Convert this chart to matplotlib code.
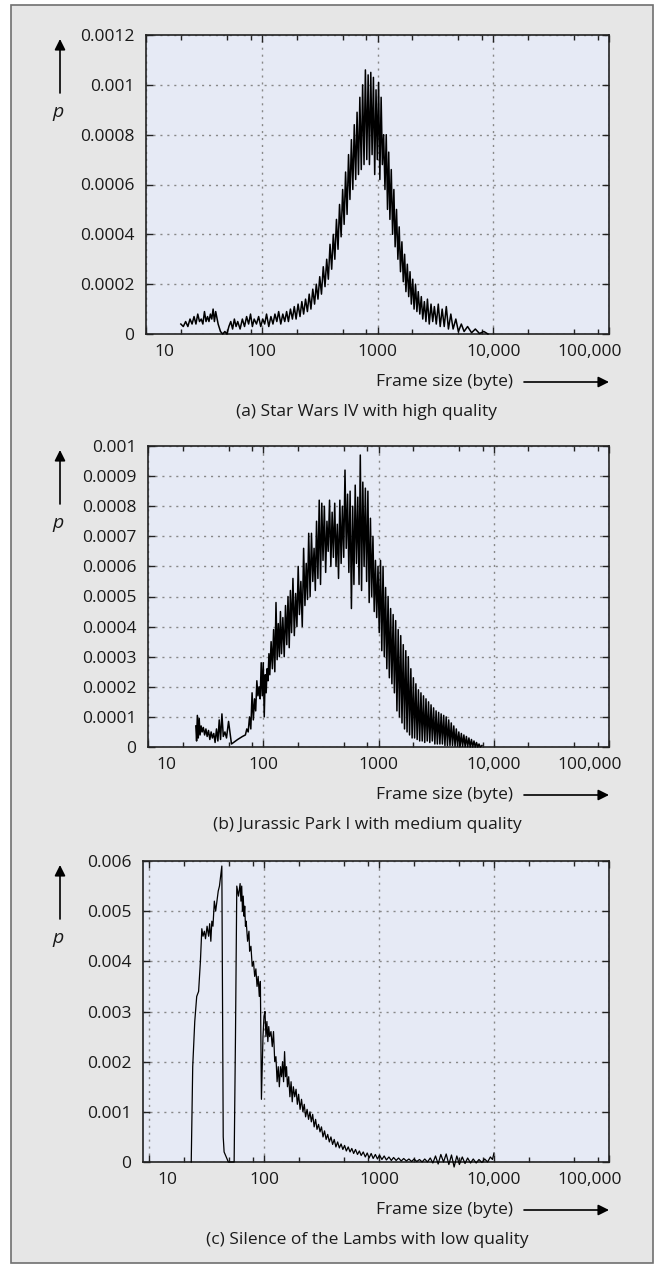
import numpy as np
import matplotlib.pyplot as plt
from matplotlib.patches import Rectangle, FancyArrowPatch
from matplotlib.ticker import FixedLocator, NullFormatter
from matplotlib.transforms import ScaledTranslation

plt.rcParams['font.family'] = ['Open Sans', 'DejaVu Sans']

# ---- frame size distributions (x in bytes) ----
# (a) Star Wars IV, high quality; p values in units of 1e-4
sw_x = [20, 21, 22, 23, 24, 25, 26, 27, 28, 29, 30, 31, 32, 33, 34, 35, 36, 37, 38, 39,
        40, 42, 44, 46, 48, 50, 52, 54, 56, 58, 60, 62, 65, 68, 71, 74, 77, 80, 83, 86,
        90, 94, 98, 102, 106, 110, 115, 120, 125, 130, 135, 140, 146, 152, 158, 164, 170,
        177, 184, 191, 198, 206, 214, 222, 230, 239, 248, 257, 266, 276, 286, 296, 306,
        317, 328, 340, 352, 364, 376, 389, 402, 415, 428, 442, 456, 470, 485, 500, 515,
        530, 546, 562, 578, 595, 612, 630, 648, 666, 685, 704, 724, 744, 765, 786, 808,
        830, 852, 875, 898, 922, 946, 971, 996, 1022, 1048, 1075, 1102, 1130, 1160, 1190,
        1220, 1250, 1280, 1315, 1350, 1385, 1420, 1460, 1500, 1540, 1580, 1625, 1670,
        1715, 1760, 1810, 1860, 1910, 1960, 2015, 2070, 2130, 2190, 2250, 2320, 2390,
        2460, 2540, 2620, 2700, 2800, 2900, 3000, 3100, 3220, 3350, 3480, 3620, 3770,
        3930, 4100, 4300, 4500, 4750, 5000, 5300, 5600, 6000, 6500, 7000, 7600, 8300, 9000]
sw_p = [0.4, 0.3, 0.5, 0.3, 0.6, 0.4, 0.7, 0.4, 0.8, 0.5, 0.6, 0.4, 0.9, 0.5, 0.7, 0.5, 0.8, 0.6, 1.0, 0.5,
        0.9, 0.4, 0.1, 0.0, 0.1, 0.0, 0.3, 0.5, 0.2, 0.6, 0.3, 0.5, 0.2, 0.6, 0.3, 0.7, 0.4, 0.8, 0.3, 0.6,
        0.4, 0.7, 0.3, 0.6, 0.4, 0.8, 0.3, 0.7, 0.4, 0.8, 0.5, 0.9, 0.4, 0.8, 0.5, 0.9, 0.5,
        1.0, 0.6, 1.1, 0.6, 1.2, 0.7, 1.3, 0.8, 1.4, 0.9, 1.6, 1.0, 1.8, 1.2, 2.0, 1.4,
        2.3, 1.6, 2.7, 1.9, 3.0, 2.2, 3.6, 2.6, 4.0, 3.0, 4.6, 3.4, 5.2, 3.9, 5.8, 4.4,
        6.5, 4.8, 7.2, 5.4, 7.8, 5.8, 8.4, 6.2, 8.9, 6.4, 9.5, 6.6, 10.0, 6.8, 10.6, 7.0,
        10.4, 6.8, 10.5, 7.2, 10.3, 6.4, 9.8, 7.0, 10.1, 6.2, 9.5, 6.8, 8.0, 5.8, 8.0,
        5.0, 7.3, 4.6, 6.6, 4.0, 5.8, 3.5, 5.0, 3.0, 4.3, 2.5, 3.7, 2.1,
        3.2, 1.7, 2.8, 1.5, 2.5, 1.2, 2.2, 1.0, 2.0, 0.9, 1.7, 0.8, 1.5,
        0.6, 1.3, 0.5, 1.4, 0.4, 1.2, 0.5, 1.1, 0.4, 1.2, 0.3, 1.0, 0.3,
        1.1, 0.2, 0.8, 0.2, 0.6, 0.1, 0.4, 0.1, 0.3, 0.05, 0.2, 0.02, 0.1, 0.0]

# (b) Jurassic Park I, medium quality; p values in units of 1e-4
jp_x = [26, 26.4, 26.8, 27.3, 27.8, 28.3, 28.9, 29.5, 30.2, 31, 31.8, 32.6, 33.5, 34.4, 35.3,
        36.2, 37.2, 38.2, 39.3, 40.4, 41.5, 42.6, 43.8, 45, 46.5, 48, 50, 53, 60, 66, 70, 72,
        74, 76, 78, 80, 82, 84, 86, 88, 90, 92, 94, 96, 98, 100, 102, 104, 106, 108, 110,
        112, 114, 117, 120, 123, 126, 129, 132, 135, 138, 141, 144, 148, 152, 156, 160,
        164, 168, 172, 176, 181, 186, 191, 196, 201, 206, 212, 218, 224, 230, 236, 242,
        248, 255, 262, 269, 276, 283, 290, 298, 306, 314, 322, 330, 339, 348, 357, 366,
        376, 386, 396, 406, 417, 428, 439, 450, 462, 474, 486, 499, 512, 525, 539, 553,
        567, 582, 597, 612, 628, 644, 661, 678, 695, 713, 731, 750, 769, 789, 809, 830,
        851, 873, 895, 918, 941, 965, 990, 1015, 1041, 1068, 1095, 1123, 1152, 1181, 1211,
        1242, 1274, 1307, 1340, 1374, 1409, 1445, 1482, 1520, 1559, 1599, 1640, 1682,
        1725, 1769, 1814, 1860, 1908, 1957, 2007, 2058, 2111, 2165, 2220, 2277, 2335,
        2395, 2456, 2519, 2583, 2649, 2717, 2786, 2857, 2930, 3005, 3082, 3160, 3241,
        3324, 3409, 3496, 3585, 3677, 3771, 3867, 3966, 4067, 4171, 4278, 4387, 4499,
        4614, 4732, 4853, 4977, 5104, 5234, 5368, 5505, 5646, 5790, 5938, 6090, 6245,
        6405, 6568, 6736, 6908, 7085, 7266, 7451, 7641, 7900]
jp_p = [0.7, 0.2, 1.05, 0.3, 0.95, 0.4, 0.7, 0.5, 0.65, 0.4, 0.6, 0.35, 0.55, 0.25, 0.5,
        0.3, 0.45, 0.15, 0.6, 0.2, 0.9, 0.25, 1.1, 0.35, 0.5, 0.3, 0.85, 0.1, 0.25, 0.35, 0.4, 0.6,
        0.5, 1.0, 0.6, 1.8, 0.9, 1.6, 1.2, 2.2, 1.7, 2.0, 1.6, 2.8, 1.7, 2.8, 1.0, 2.4, 1.8, 2.6, 2.2,
        3.1, 2.4, 3.5, 2.6, 3.9, 2.5, 4.8, 2.9, 4.1, 3.0, 4.5, 3.1, 4.3, 3.0, 4.7, 3.4,
        5.0, 3.3, 5.2, 3.8, 5.6, 3.7, 5.1, 4.0, 6.0, 4.4, 5.5, 4.0, 6.6, 4.7, 6.1, 4.9,
        7.1, 5.0, 7.1, 5.5, 6.6, 5.2, 7.5, 5.6, 8.2, 5.4, 8.1, 6.2, 8.0, 5.8, 7.5, 6.5,
        8.2, 6.0, 7.8, 6.3, 8.1, 6.0, 7.4, 5.6, 8.2, 6.1, 8.0, 6.3, 9.2, 6.6, 8.4, 5.8,
        8.5, 4.6, 8.0, 5.4, 8.7, 6.1, 8.3, 5.4, 9.7, 5.2, 8.8, 6.0, 8.6, 5.5, 8.5, 4.8,
        7.6, 5.0, 7.0, 4.5, 6.2, 4.3, 6.0, 3.8, 6.2, 3.2, 6.0, 3.0, 5.3, 2.6, 5.0,
        2.3, 4.6, 2.1, 4.4, 1.8, 4.2, 1.2, 3.9, 1.0, 3.7, 0.8, 3.4, 0.6,
        3.2, 0.5, 3.0, 0.4, 2.6, 0.3, 2.3, 0.3, 2.1, 0.25, 1.9, 0.2, 1.8,
        0.2, 1.7, 0.15, 1.6, 0.2, 1.5, 0.15, 1.4, 0.2, 1.3, 0.1, 1.2, 0.1,
        1.15, 0.1, 1.1, 0.1, 1.05, 0.05, 1.0, 0.05, 0.9, 0.05, 0.8, 0.05, 0.7,
        0.03, 0.6, 0.03, 0.5, 0.02, 0.45, 0.02, 0.4, 0.01, 0.35, 0.01, 0.3, 0.0,
        0.25, 0.0, 0.2, 0.0, 0.15, 0.0, 0.1, 0.0, 0.05]

# (c) Silence of the Lambs, low quality; p values in units of 1e-3
sl_x = [23.3, 24, 25, 26, 27, 28, 28.8, 29.5, 30.3, 31, 32, 33, 33.7, 34.5, 35.2, 36, 37, 38,
        39, 40, 41, 42, 43, 44.2, 45, 49, 55, 56.5, 58, 60, 62, 63, 64, 65, 66, 67, 68, 69, 70,
        72, 74, 75, 77, 79, 81, 83, 85, 87, 89, 91, 93, 95, 98, 100, 102, 104, 106, 108, 110,
        112, 115, 118, 121, 124, 127, 130, 133, 136, 139, 142, 145, 148, 151, 154, 157, 160,
        164, 168, 172, 176, 180, 185, 190, 195, 200, 206, 212, 218, 224, 230, 237, 244, 251,
        258, 265, 273, 281, 289, 298, 307, 316, 326, 336, 347, 358, 370, 382, 395, 408, 422,
        437, 452, 468, 485, 502, 520, 540, 560, 580, 602, 625, 650, 675, 700, 730, 760, 790,
        820, 855, 890, 930, 970, 1010, 1060, 1110, 1160, 1220, 1280, 1340, 1410, 1480, 1560,
        1640, 1730, 1820, 1920, 2020, 2130, 2250, 2370, 2500, 2640, 2790, 2940, 3100, 3270,
        3450, 3640, 3840, 4050, 4270, 4500, 4750, 5000, 5300, 5600, 5900, 6250, 6600, 7000,
        7400, 7850, 8300, 8800, 9300, 9700, 10000]
sl_p = [0.0, 1.9, 2.8, 3.3, 3.4, 4.0, 4.65, 4.5, 4.6, 4.45, 4.7, 4.5, 4.75, 4.4, 4.8, 4.7, 5.2, 5.0,
        5.2, 5.4, 5.5, 5.7, 5.9, 0.5, 0.2, 0.0, 0.0, 2.5, 5.5, 5.3, 5.55, 5.2, 5.5, 5.0, 5.3, 4.9, 5.1, 4.7, 4.8,
        4.4, 4.6, 4.2, 4.3, 3.9, 4.0, 3.7, 3.85, 3.5, 3.7, 3.3, 3.6, 1.25, 2.5, 2.9, 3.0, 2.5, 2.8, 2.4, 2.7,
        2.5, 2.6, 2.3, 2.6, 2.0, 2.1, 1.6, 1.9, 1.5, 1.9, 1.7, 2.0, 1.6, 2.2, 1.7, 1.9, 1.5,
        1.7, 1.3, 1.6, 1.2, 1.5, 1.3, 1.45, 1.15, 1.35, 1.05, 1.25, 1.0, 1.15, 0.9, 1.05, 0.85, 1.0,
        0.8, 0.95, 0.7, 0.85, 0.65, 0.75, 0.6, 0.7, 0.5, 0.62, 0.45, 0.55, 0.4, 0.5, 0.35, 0.45, 0.3,
        0.4, 0.28, 0.36, 0.25, 0.33, 0.22, 0.3, 0.2, 0.27, 0.17, 0.25, 0.15, 0.22, 0.13, 0.2, 0.1, 0.18,
        0.08, 0.17, 0.07, 0.15, 0.06, 0.14, 0.05, 0.12, 0.04, 0.1, 0.03, 0.09, 0.03, 0.08, 0.02,
        0.07, 0.02, 0.06, 0.01, 0.06, 0.01, 0.05, 0.0, 0.06, 0.0, 0.08, -0.02, 0.12, -0.04,
        0.15, 0.0, 0.16, -0.05, 0.14, -0.1, 0.12, -0.05, 0.1, -0.03, 0.08, -0.02, 0.06, -0.02,
        0.05, -0.01, 0.06, 0.0, 0.1, 0.05, 0.18]

x_ticks = [10, 100, 1000, 10000, 100000]
x_tick_labels = ['10', '100', '1000', '10,000', '100,000']
x_minor = [20, 50, 80, 200, 500, 800, 2000, 5000, 8000, 20000, 50000, 80000]

panels = [
    dict(x=sw_x, p=sw_p, unit=1e-4, xmin=10, lw=1.1,
         yticks=[0, 0.0002, 0.0004, 0.0006, 0.0008, 0.001, 0.0012],
         ylabels=['0', '0.0002', '0.0004', '0.0006', '0.0008', '0.001', '0.0012'],
         caption='(a) Star Wars IV with high quality',
         box=(146, 609, 35, 334)),
    dict(x=jp_x, p=jp_p, unit=1e-4, xmin=10, lw=1.1,
         yticks=[0, 0.0001, 0.0002, 0.0003, 0.0004, 0.0005, 0.0006, 0.0007, 0.0008, 0.0009, 0.001],
         ylabels=['0', '0.0001', '0.0002', '0.0003', '0.0004', '0.0005', '0.0006', '0.0007',
                  '0.0008', '0.0009', '0.001'],
         caption='(b) Jurassic Park I with medium quality',
         box=(148, 609, 446, 747)),
    dict(x=sl_x, p=sl_p, unit=1e-3, xmin=8.87, lw=0.9,
         yticks=[0, 0.001, 0.002, 0.003, 0.004, 0.005, 0.006],
         ylabels=['0', '0.001', '0.002', '0.003', '0.004', '0.005', '0.006'],
         caption='(c) Silence of the Lambs with low quality',
         box=(143, 609, 861, 1162)),
]

W, H = 663, 1268
fig = plt.figure(figsize=(W / 100, H / 100), dpi=100, facecolor='white')

# grey card with a thin outline behind all three panels
fig.patches.append(Rectangle((11 / W, 1 - 1263 / H), 642 / W, 1258 / H,
                             transform=fig.transFigure, facecolor='#e6e6e6',
                             edgecolor='#707070', linewidth=1.2, zorder=-10))

for pn in panels:
    L, R, T, B = pn['box']
    ax = fig.add_axes([L / W, 1 - B / H, (R - L) / W, (B - T) / H])
    ax.set_facecolor('#e6eaf5')
    ax.plot(pn['x'], np.array(pn['p']) * pn['unit'], color='black', lw=pn['lw'],
            clip_on=False, zorder=3)
    ax.set_xscale('log')
    ax.set_xlim(pn['xmin'], 100000)
    ax.set_ylim(0, pn['yticks'][-1])

    ax.xaxis.set_major_locator(FixedLocator(x_ticks))
    ax.xaxis.set_minor_locator(FixedLocator(x_minor))
    ax.xaxis.set_minor_formatter(NullFormatter())
    ax.set_xticks(x_ticks)
    ax.set_xticklabels(x_tick_labels)
    ax.set_yticks(pn['yticks'])
    ax.set_yticklabels(pn['ylabels'])

    ax.tick_params(which='both', direction='in', top=True, right=True,
                   color='#222222', width=1.0)
    ax.tick_params(which='major', length=5, labelsize=12.5, labelcolor='#1a1a1a')
    ax.tick_params(axis='y', which='major', pad=8.5)
    ax.tick_params(axis='x', which='major', pad=7)
    ax.tick_params(which='minor', length=3.5)
    for s in ax.spines.values():
        s.set_color('#222222')
        s.set_linewidth(1.2)
    ax.grid(True, which='major', color='#888888', linestyle=(0, (1.5, 3.5)), linewidth=1.0)
    ax.set_axisbelow(True)

    # end labels sit inside the plot width
    xl = ax.get_xticklabels()
    xl[0].set_transform(xl[0].get_transform() + ScaledTranslation(0.18, 0, fig.dpi_scale_trans))
    xl[-1].set_transform(xl[-1].get_transform() + ScaledTranslation(-0.19, 0, fig.dpi_scale_trans))

    # x axis title with arrow to the right
    ax.annotate('Frame size (byte)', xy=(1, 0), xycoords='axes fraction',
                xytext=(-96, -48), textcoords='offset pixels', ha='right', va='center',
                fontsize=12.5, color='#1a1a1a', annotation_clip=False)
    fig.add_artist(FancyArrowPatch(
        ((R - 85) / W, 1 - (B + 48) / H), (R / W, 1 - (B + 48) / H),
        transform=fig.transFigure, arrowstyle='-|>', mutation_scale=16,
        color='black', lw=1.2, shrinkA=0, shrinkB=0))

    # y axis title: upward arrow and italic p
    fig.add_artist(FancyArrowPatch(
        (60 / W, 1 - (T + 58) / H), (60 / W, 1 - (T + 4) / H),
        transform=fig.transFigure, arrowstyle='-|>', mutation_scale=16,
        color='black', lw=1.2, shrinkA=0, shrinkB=0))
    fig.text(58 / W, 1 - (T + 77) / H, 'p', style='italic', fontsize=14,
             ha='center', va='center', color='#1a1a1a')

    fig.text(367 / W, 1 - (B + 78) / H, pn['caption'], fontsize=12.5,
             ha='center', va='center', color='#1a1a1a')

fig.savefig('out.png', dpi=100, facecolor='white')
